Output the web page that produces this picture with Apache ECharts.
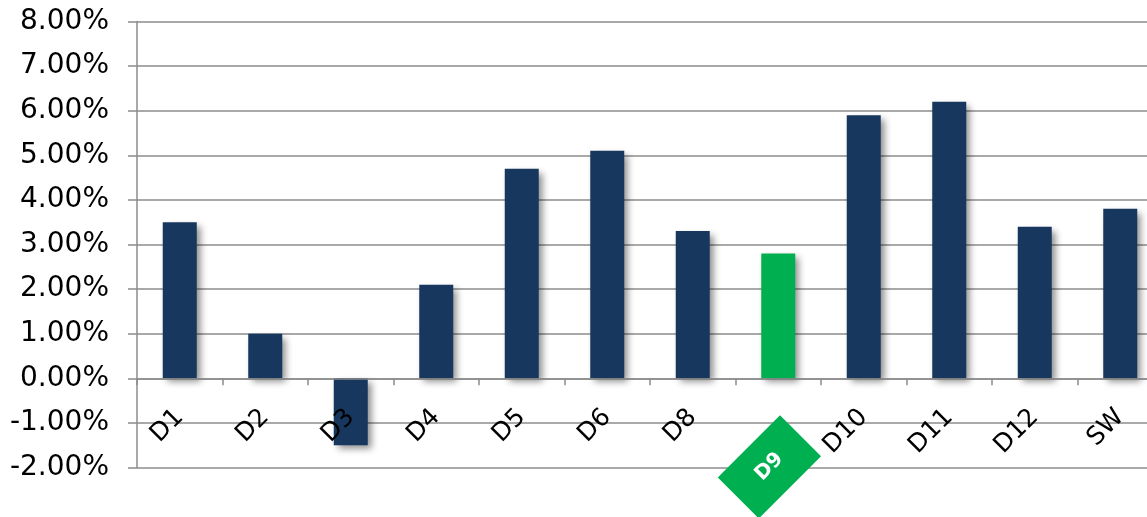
<!DOCTYPE html>
<html><head><meta charset="utf-8">
<script src="https://cdn.jsdelivr.net/npm/echarts@6/dist/echarts.min.js"></script>
<style>html,body{margin:0;padding:0;background:#fff}#c{width:1147px;height:517px}</style>
</head><body><div id="c"></div>
<script>
const categories = ['D1','D2','D3','D4','D5','D6','D8','D9','D10','D11','D12','SW'];
const values = [3.5, 1.0, -1.5, 2.1, 4.7, 5.1, 3.3, 2.8, 5.9, 6.2, 3.4, 3.8];
const highlight = 'D9';
const yMin = -2, yMax = 8, yStep = 1;

const navy = '#17375E', green = '#00B050', gridGrey = '#8c8c8c';
const font = '"DejaVu Sans", Verdana, sans-serif';

const chart = echarts.init(document.getElementById('c'), null, {renderer: 'canvas'});
chart.setOption({
  animation: false,
  backgroundColor: '#fff',
  grid: {left: 137, right: -16, top: 21.5, bottom: 49.5, containLabel: false, outerBoundsMode: 'none'},
  xAxis: {
    type: 'category',
    data: categories,
    z: 5,
    axisLine: {onZero: true, lineStyle: {color: gridGrey, width: 1.5}},
    axisTick: {show: true, length: 7, lineStyle: {color: gridGrey, width: 1.5}},
    axisLabel: {
      interval: 0, rotate: 45, margin: -54,
      fontFamily: font, fontSize: 25, color: '#000',
      formatter: v => v === highlight ? '{gap| }\n{hl|' + v + '}' : v,
      rich: {
        gap: {fontSize: 2, lineHeight: 63, height: 63},
        hl: {backgroundColor: green, color: '#fff', fontWeight: 'bold', fontFamily: font,
             fontSize: 20, width: 88, height: 58, lineHeight: 58, align: 'center'}
      }
    },
    splitLine: {show: false}
  },
  yAxis: {
    type: 'value', min: yMin, max: yMax, interval: yStep,
    axisLine: {show: true, lineStyle: {color: gridGrey, width: 1.5}},
    axisTick: {show: true, length: 9, lineStyle: {color: gridGrey, width: 1.5}},
    axisLabel: {
      margin: 28, fontFamily: font, fontSize: 28, color: '#000',
      formatter: v => v.toFixed(2) + '%'
    },
    splitLine: {show: true, lineStyle: {color: gridGrey, width: 1.5}}
  },
  series: [{
    type: 'bar',
    barWidth: 34,
    data: values.map((v, i) => ({
      value: v,
      itemStyle: {color: categories[i] === highlight ? green : navy}
    })),
    itemStyle: {
      shadowBlur: 7, shadowOffsetX: 4, shadowOffsetY: 4,
      shadowColor: 'rgba(0,0,0,0.45)'
    }
  }]
});
</script></body></html>
